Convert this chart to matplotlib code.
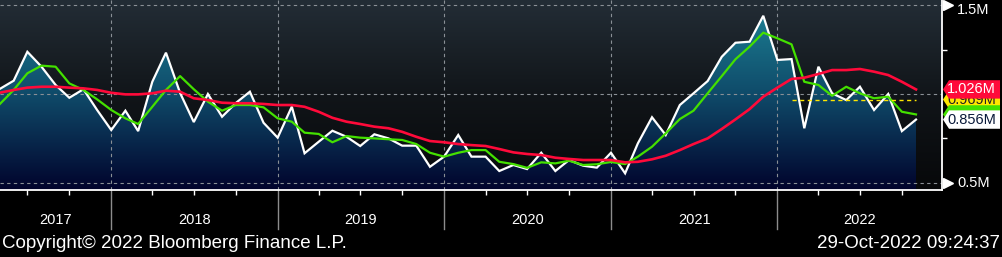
import numpy as np
import pandas as pd
import matplotlib
matplotlib.use("Agg")
import matplotlib.pyplot as plt
import matplotlib.dates as mdates
from matplotlib.colors import LinearSegmentedColormap
from matplotlib.patches import Polygon
from matplotlib.transforms import IdentityTransform

# ---------------- data (monthly, May 2017 .. Nov 2022) ----------------
start_month = "2017-05-01"
white_vals = [1.028, 1.075, 1.238, 1.154, 1.051, 0.979, 1.027, 0.910,
              0.797, 0.906, 0.791, 1.069, 1.233, 1.006, 0.842, 1.000, 0.872, 0.949, 1.013, 0.838,
              0.754, 0.929, 0.666, 0.731, 0.793, 0.759, 0.707, 0.773, 0.750, 0.709, 0.709, 0.590,
              0.647, 0.769, 0.647, 0.647, 0.566, 0.600, 0.577, 0.669, 0.566, 0.628, 0.596, 0.585,
              0.669, 0.553, 0.722, 0.869, 0.769, 0.938, 1.004, 1.073, 1.210, 1.289, 1.295, 1.441,
              1.192, 1.197, 0.807, 1.154, 1.004, 0.966, 1.041, 0.910, 1.000, 0.791, 0.856]
green_vals = [0.942, 1.023, 1.117, 1.160, 1.154, 1.060, 1.023, 0.970,
              0.910, 0.863, 0.831, 0.928, 1.023, 1.101, 1.027, 0.957, 0.906, 0.938, 0.938, 0.925,
              0.863, 0.844, 0.782, 0.775, 0.728, 0.763, 0.754, 0.750, 0.745, 0.741, 0.718, 0.669,
              0.647, 0.669, 0.684, 0.684, 0.618, 0.605, 0.584, 0.615, 0.609, 0.624, 0.600, 0.604,
              0.617, 0.605, 0.647, 0.703, 0.778, 0.859, 0.906, 1.004, 1.101, 1.196, 1.267, 1.346,
              1.314, 1.280, 1.069, 1.051, 0.990, 1.041, 1.004, 0.976, 0.985, 0.900, 0.885]
red_vals = [1.007, 1.023, 1.036, 1.041, 1.041, 1.036, 1.032, 1.023,
            1.007, 0.998, 0.998, 1.004, 1.019, 1.013, 0.976, 0.966, 0.951, 0.948, 0.948, 0.944,
            0.938, 0.938, 0.928, 0.900, 0.866, 0.844, 0.831, 0.816, 0.807, 0.787, 0.759, 0.735,
            0.728, 0.718, 0.712, 0.707, 0.690, 0.671, 0.662, 0.656, 0.641, 0.634, 0.628, 0.628,
            0.628, 0.615, 0.618, 0.632, 0.652, 0.684, 0.718, 0.750, 0.803, 0.857, 0.915, 0.985,
            1.036, 1.085, 1.092, 1.113, 1.135, 1.135, 1.141, 1.126, 1.107, 1.069, 1.026]
yellow_level = 0.969
yellow_start = "2022-02-01"
labels_last = {"red": "1.026M", "yellow": "0.969M", "green": "0.885M", "white": "0.856M"}
green_last_label_value = 0.885
y_tick_labels = [(1.5, "1.5M"), (0.5, "0.5M")]
years = [2017, 2018, 2019, 2020, 2021, 2022]
copyright_text = "Copyright\u00a9 2022 Bloomberg Finance L.P."
timestamp_text = "29-Oct-2022 09:24:37"

dates = pd.date_range(start_month, periods=len(white_vals), freq="MS")
x = mdates.date2num(dates)

# ---------------- figure ----------------
W, H = 1003, 257
fig = plt.figure(figsize=(W / 100, H / 100), dpi=100, facecolor="black")
ax = fig.add_axes([0, (H - 190) / H, 942 / W, 190 / H])
ax.set_facecolor("black")

xlim = (mdates.date2num(pd.Timestamp("2017-05-02")), mdates.date2num(pd.Timestamp("2022-12-28")))
ylim = (0.459, 1.530)

# background gradient
bg_cmap = LinearSegmentedColormap.from_list(
    "bg", [(0.0, "#07080a"), (0.5, "#111519"), (1.0, "#232d36")])
grad = np.linspace(0, 1, 256).reshape(-1, 1)
ax.imshow(grad, cmap=bg_cmap, aspect="auto", origin="lower",
          extent=(0, 1, 0, 1), transform=ax.transAxes, zorder=0)

# area fill gradient clipped to area under white line
fill = ax.fill_between(x, white_vals, ylim[0], facecolor="none", edgecolor="none", zorder=1)
fill_cmap = LinearSegmentedColormap.from_list(
    "fill", [(0.0, "#01032c"), (0.5, "#0f4a69"), (1.0, "#1d8497")])
im = ax.imshow(grad, cmap=fill_cmap, aspect="auto", origin="lower",
               extent=(xlim[0], xlim[1], ylim[0], ylim[1]), zorder=1)
im.set_clip_path(fill.get_paths()[0], ax.transData)

# grid
grid_kw = dict(color="#8a9096", lw=0.8, ls=(0, (3, 3)), zorder=2)
for v, _ in y_tick_labels + [(1.0, "")]:
    ax.axhline(v, **grid_kw)
for yr in years[1:]:
    ax.axvline(mdates.date2num(pd.Timestamp(f"{yr}-01-01")), **grid_kw)

# series
ax.plot(x, white_vals, color="white", lw=1.6, zorder=3, solid_joinstyle="miter")
ax.plot(x, green_vals, color="#44e000", lw=1.6, zorder=4)
ax.plot(x, red_vals, color="#ff0a3a", lw=1.9, zorder=5)
ys = mdates.date2num(pd.Timestamp(yellow_start))
ax.plot([ys, x[-1]], [yellow_level, yellow_level], color="#ffe600", lw=1.0,
        ls=(0, (3, 2.5)), zorder=4)

ax.set_xlim(*xlim)
ax.set_ylim(*ylim)

# spines/ticks
for s in ["top", "left"]:
    ax.spines[s].set_visible(False)
for s in ["bottom", "right"]:
    ax.spines[s].set_color("white")
    ax.spines[s].set_linewidth(1.3)
    ax.spines[s].set_zorder(6)
ax.set_xticks([])
ax.xaxis.set_minor_locator(mdates.MonthLocator([4, 7, 10]))
ax.tick_params(axis="x", which="minor", direction="out", length=3.6, width=1.0,
               color="white", labelbottom=False)
ax.yaxis.tick_right()
ax.set_yticks([0.75, 1.25])
ax.tick_params(axis="y", which="major", direction="out", length=3.6, width=1.0,
               color="white", labelright=False)

# year separators below axis and year labels
xt = ax.get_xaxis_transform()
sep_len = 39 / 190
for yr in years[1:]:
    xv = mdates.date2num(pd.Timestamp(f"{yr}-01-01"))
    ax.plot([xv, xv], [0, -sep_len], color="#8c8c8c", lw=1.0, transform=xt, clip_on=False)
for yr in years:
    a = max(xlim[0], mdates.date2num(pd.Timestamp(f"{yr}-01-01")))
    b = min(xlim[1], mdates.date2num(pd.Timestamp(f"{yr + 1}-01-01")))
    ax.text((a + b) / 2, -30 / 190, str(yr), transform=xt, ha="center", va="center",
            color="white", fontsize=10.5, family="Liberation Sans")

# right axis labels with arrow markers
yt = ax.get_yaxis_transform()
for v, lab in y_tick_labels:
    ax.plot([1.0 + 6 / 942], [v], marker=">", ms=7, color="white", transform=yt,
            clip_on=False, zorder=7)
for v, lab in y_tick_labels:
    ypix = ax.transData.transform((xlim[0], v))[1]
    ypix = min(ypix, H - 9.5)
    fig.text(957 / W, ypix / H, lab, ha="left", va="center", color="white",
             fontsize=10.5, family="Liberation Sans")

# last value labels (stacked: later ones cover earlier ones)
fig.canvas.draw()
def value_label(val, text, face, tcolor, z):
    yc = ax.transData.transform((xlim[0], val))[1]
    h = 9.2
    x0, x1 = 943, 1000
    pts = [(x0, yc), (x0 + 6, yc + h), (x1, yc + h), (x1, yc - h), (x0 + 6, yc - h)]
    poly = Polygon(pts, closed=True, facecolor=face, edgecolor="none",
                   transform=IdentityTransform(), zorder=z)
    fig.add_artist(poly)
    t = fig.text(971.5 / W, yc / H, text, ha="center", va="center", color=tcolor,
                 fontsize=10.5, family="Liberation Sans", zorder=z + 0.5)
    t.set_clip_path(poly)

value_label(yellow_level, labels_last["yellow"], "#ffe600", "#222222", 10)
value_label(green_last_label_value, labels_last["green"], "#44e000", "#44e000", 11)
value_label(red_vals[-1], labels_last["red"], "#ff0a3a", "white", 12)
value_label(white_vals[-1], labels_last["white"], "white", "#0a1a3a", 13)

# footer
fig.text(2 / W, 1 - 244 / H, copyright_text, ha="left", va="center", color="white",
         fontsize=13.5, family="Liberation Sans")
fig.text(1000 / W, 1 - 244 / H, timestamp_text, ha="right", va="center", color="white",
         fontsize=13.5, family="Liberation Sans")

fig.savefig("out.png", dpi=100, facecolor="black")
